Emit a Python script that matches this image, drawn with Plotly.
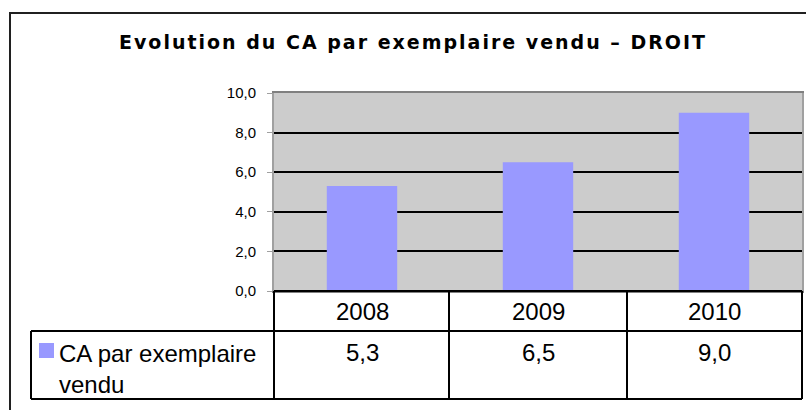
import plotly.graph_objects as go

# ---- data ----
years = ["2008", "2009", "2010"]
ca_values = [5.3, 6.5, 9.0]
value_labels = ["5,3", "6,5", "9,0"]
y_tick_values = [0, 2, 4, 6, 8, 10]
y_tick_labels = ["0,0", "2,0", "4,0", "6,0", "8,0", "10,0"]
series_name = "CA par exemplaire<br>vendu"
title_text = "Evolution du CA par exemplaire vendu \u2013 DROIT"

# ---- style ----
W, H = 806, 410
BAR_COLOR = "#9999FF"
PLOT_BG = "#CCCCCC"
FONT = "Liberation Sans, Arial, sans-serif"


def X(px):
    return px / W


def Y(py):
    return 1 - py / H


# plot area in pixels
PL, PR, PT, PB = 274, 802, 93, 291
ROW1_B, ROW2_B = 331, 399
COLS = [274, 449, 627, 802]
LEG_L = 31

fig = go.Figure()
fig.add_trace(go.Bar(x=years, y=ca_values, marker=dict(color=BAR_COLOR, line=dict(width=0)),
                     width=0.4, showlegend=False, hoverinfo="skip"))

fig.update_layout(
    width=W, height=H, autosize=False,
    margin=dict(l=0, r=0, t=0, b=0, pad=0, autoexpand=False),
    paper_bgcolor="white",
    plot_bgcolor=PLOT_BG,
    showlegend=False,
    title=dict(
        text='<span style="letter-spacing:2px">' + title_text + '</span>',
        x=X(413), y=Y(42), xanchor="center", yanchor="middle", xref="paper", yref="container",
        font=dict(family="DejaVu Sans, Verdana, sans-serif", size=19, color="black", weight="bold"),
    ),
    xaxis=dict(
        type="category", categoryorder="array", categoryarray=years,
        range=[-0.5, 2.5], autorange=False,
        domain=[X(PL), X(PR)],
        showticklabels=False, ticks="",
        showgrid=False, zeroline=False, automargin=False,
        showline=True, mirror=True, linecolor="#808080", linewidth=2,
    ),
    yaxis=dict(
        domain=[Y(PB), Y(PT)],
        range=[0, 10], autorange=False,
        tickmode="array", tickvals=y_tick_values, ticktext=y_tick_labels,
        showgrid=True, gridcolor="black", gridwidth=1.5,
        zeroline=False, automargin=False,
        showline=True, mirror=True, linecolor="#A0A0A0", linewidth=2,
        ticks="outside", ticklen=5, tickcolor="#A0A0A0", tickwidth=1,
        ticklabelstandoff=8,
        tickfont=dict(family=FONT, size=15, color="black"),
    ),
)

shapes = []
line_style = dict(color="black", width=2)
# outer chart frame (extends past the window)
shapes.append(dict(type="rect", xref="paper", yref="paper", x0=X(10), x1=X(W + 20), y0=Y(H + 20), y1=Y(13),
                   line=dict(color="#202020", width=2), layer="above"))
# data table horizontal lines
shapes.append(dict(type="line", xref="paper", yref="paper", x0=X(PL), x1=X(PR), y0=Y(PB), y1=Y(PB), line=line_style))
shapes.append(dict(type="line", xref="paper", yref="paper", x0=X(LEG_L), x1=X(PR), y0=Y(ROW1_B), y1=Y(ROW1_B), line=line_style))
shapes.append(dict(type="line", xref="paper", yref="paper", x0=X(LEG_L), x1=X(PR), y0=Y(ROW2_B), y1=Y(ROW2_B), line=line_style))
# vertical lines
for cx in COLS:
    shapes.append(dict(type="line", xref="paper", yref="paper", x0=X(cx), x1=X(cx), y0=Y(ROW2_B), y1=Y(PB), line=line_style))
shapes.append(dict(type="line", xref="paper", yref="paper", x0=X(LEG_L), x1=X(LEG_L), y0=Y(ROW2_B), y1=Y(ROW1_B), line=line_style))
# legend swatch
shapes.append(dict(type="rect", xref="paper", yref="paper", x0=X(39), x1=X(54), y0=Y(358), y1=Y(343),
                   fillcolor=BAR_COLOR, line=dict(width=0)))
fig.update_layout(shapes=shapes)

annotations = []
for i, (yr, lab) in enumerate(zip(years, value_labels)):
    # category axis positions are indices 0..n-1
    annotations.append(dict(x=i, xref="x", y=Y(311), yref="paper", text=yr, showarrow=False,
                            xanchor="center", yanchor="middle", font=dict(family=FONT, size=24, color="black")))
    annotations.append(dict(x=i, xref="x", y=Y(352), yref="paper", text=lab, showarrow=False,
                            xanchor="center", yanchor="middle", font=dict(family=FONT, size=24, color="black")))
annotations.append(dict(x=X(57), xref="paper", y=Y(338), yref="paper", text=series_name, showarrow=False,
                        xanchor="left", yanchor="top", align="left",
                        font=dict(family=FONT, size=24, color="black")))
fig.update_layout(annotations=annotations)

fig.write_html("out.html", config={"displayModeBar": False, "responsive": False},
               post_script="document.body.style.margin='0';document.body.style.overflow='hidden';")
